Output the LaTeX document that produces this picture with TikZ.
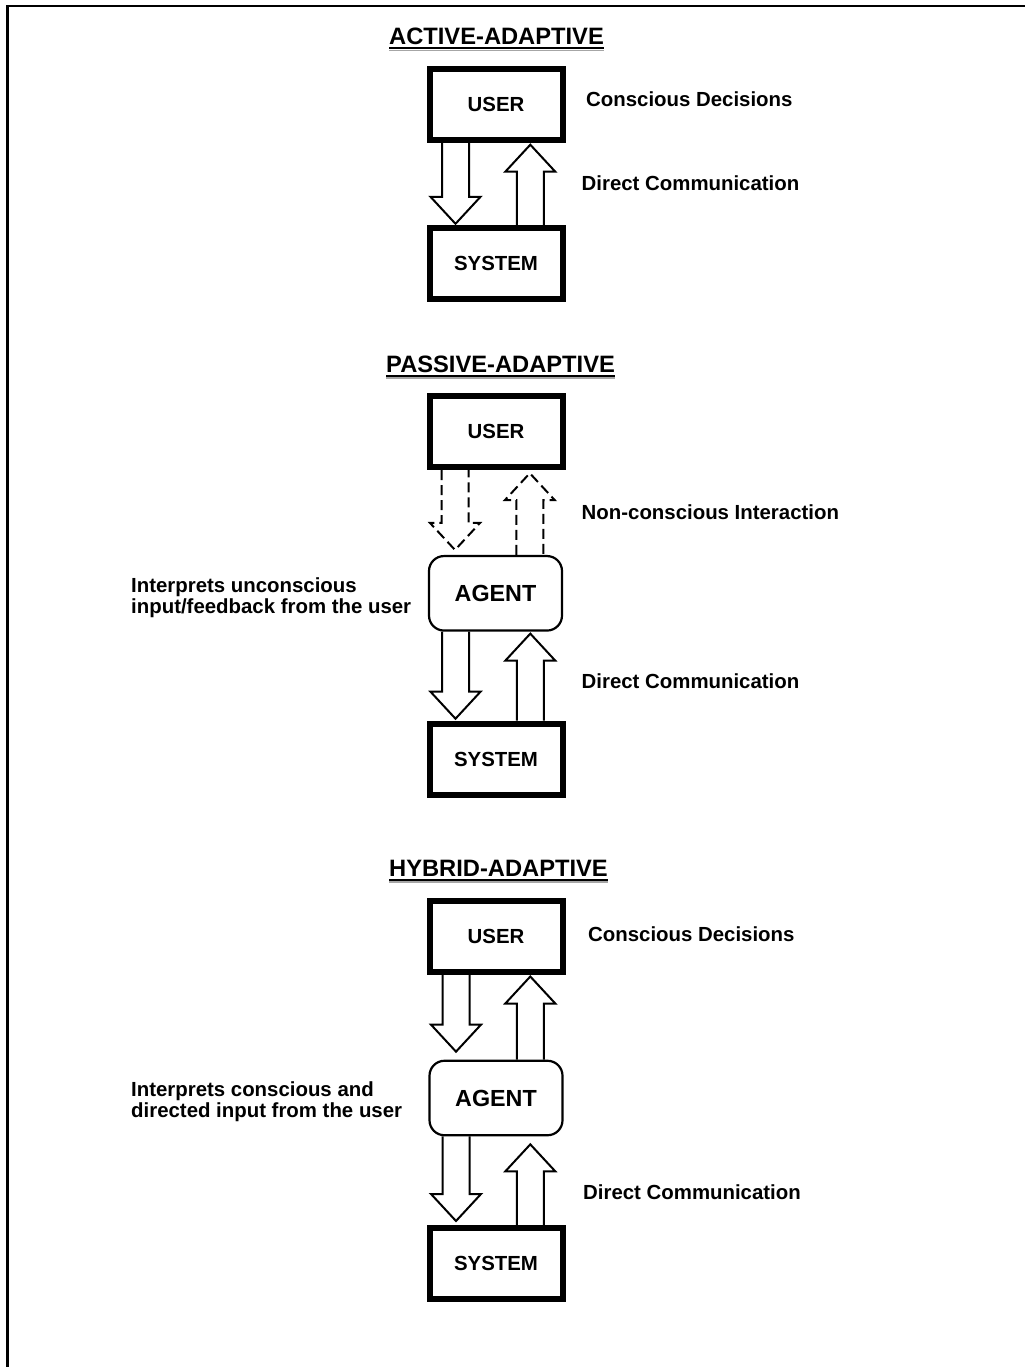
\documentclass[tikz,border=0pt]{standalone}
\usepackage{fontspec}
\setmainfont{Liberation Sans}
\usetikzlibrary{calc}
\newcommand{\dnblock}[5]{%
 \draw[#1] let \p1=(#2.south), \p2=(#3.north) in
  ({\x1+(#4)-13.5pt},{\y1}) -- ({\x1+(#4)-13.5pt},{\y2+27pt+(#5)}) -- ({\x1+(#4)-25pt},{\y2+27pt+(#5)})
  -- ({\x1+(#4)},{\y2+(#5)}) -- ({\x1+(#4)+25pt},{\y2+27pt+(#5)}) -- ({\x1+(#4)+13.5pt},{\y2+27pt+(#5)})
  -- ({\x1+(#4)+13.5pt},{\y1});}
\newcommand{\upblock}[5]{%
 \draw[#1] let \p1=(#2.north), \p2=(#3.south) in
  ({\x1+(#4)-13.5pt},{\y1}) -- ({\x1+(#4)-13.5pt},{\y2-27pt-(#5)}) -- ({\x1+(#4)-25pt},{\y2-27pt-(#5)})
  -- ({\x1+(#4)},{\y2-(#5)}) -- ({\x1+(#4)+25pt},{\y2-27pt-(#5)}) -- ({\x1+(#4)+13.5pt},{\y2-27pt-(#5)})
  -- ({\x1+(#4)+13.5pt},{\y1});}
\begin{document}
\begin{tikzpicture}[x=1pt,y=-1pt,
 lbl/.style={font=\fontsize{20.4}{21}\selectfont\bfseries, inner sep=0, anchor=base west},
 ttl/.style={font=\fontsize{23.7}{25}\selectfont\bfseries, inner sep=0, anchor=base west},
 thickbox/.style={draw, line width=6pt, minimum width=133pt, minimum height=71pt, inner sep=0, font=\fontsize{20.4}{21}\selectfont\bfseries},
 agentbox/.style={draw, line width=2.2pt, rounded corners=15pt, minimum width=133pt, minimum height=74.5pt, inner sep=0, font=\fontsize{23.3}{25}\selectfont\bfseries},
 blockarr/.style={line width=2pt, line join=miter},
 dashblock/.style={blockarr, dash pattern=on 10pt off 5pt},
 side/.style={font=\fontsize{20.4}{20.5}\selectfont\bfseries, inner sep=0, anchor=west, align=left},
 uline/.style={line width=2pt},
 ushadow/.style={line width=1.5pt, black!35}]
\useasboundingbox (0,0) rectangle (1025,1367);
% frame
\draw[line width=3pt] (7.5,1367) -- (7.5,5.5);
\draw[line width=2pt] (6,6.5) -- (1025,6.5);

% ---------- ACTIVE-ADAPTIVE ----------
\node[ttl] (t1) at (389,45) {ACTIVE-ADAPTIVE};
\draw[ushadow] ([yshift=-5.5pt]t1.base west) -- ([yshift=-5.5pt]t1.base east);
\draw[uline] ([yshift=-3.5pt]t1.base west) -- ([yshift=-3.5pt]t1.base east);
\node[thickbox] (u1) at (496,104.2) {USER};
\node[thickbox] (s1) at (496,263.3) {SYSTEM};
\dnblock{blockarr}{u1}{s1}{-40.5pt}{1pt}
\upblock{blockarr}{s1}{u1}{34.3pt}{2pt}
\node[lbl] (c1) at (586,107) {Conscious Decisions};
\node[lbl] (d1) at (581.5,191) {Direct Communication};

% ---------- PASSIVE-ADAPTIVE ----------
\node[ttl] (t2) at (386,372.5) {PASSIVE-ADAPTIVE};
\draw[ushadow] ([yshift=-5.5pt]t2.base west) -- ([yshift=-5.5pt]t2.base east);
\draw[uline] ([yshift=-3.5pt]t2.base west) -- ([yshift=-3.5pt]t2.base east);
\node[thickbox] (u2) at (496,431.7) {USER};
\node[agentbox] (a2) at (495.5,593.3) {AGENT};
\node[thickbox] (s2) at (496,759.2) {SYSTEM};
\dnblock{dashblock}{u2}{a2}{-41pt}{5pt}
\upblock{dashblock}{a2}{u2}{34.3pt}{3pt}
\dnblock{blockarr}{a2}{s2}{-40pt}{2pt}
\upblock{blockarr}{s2}{a2}{34.3pt}{2pt}
\node[lbl] (n2) at (581.5,519) {Non-conscious Interaction};
\node[lbl] (d2) at (581.5,688.5) {Direct Communication};
\node[side] (i2) at (131,597.5) {Interprets unconscious\\input/feedback from the user};

% ---------- HYBRID-ADAPTIVE ----------
\node[ttl] (t3) at (389,876.5) {HYBRID-ADAPTIVE};
\draw[ushadow] ([yshift=-5.5pt]t3.base west) -- ([yshift=-5.5pt]t3.base east);
\draw[uline] ([yshift=-3.5pt]t3.base west) -- ([yshift=-3.5pt]t3.base east);
\node[thickbox] (u3) at (496,936) {USER};
\node[agentbox] (a3) at (496,1098) {AGENT};
\node[thickbox] (s3) at (496,1263.5) {SYSTEM};
\dnblock{blockarr}{u3}{a3}{-40pt}{8pt}
\upblock{blockarr}{a3}{u3}{34.3pt}{2pt}
\dnblock{blockarr}{a3}{s3}{-40pt}{4pt}
\upblock{blockarr}{s3}{a3}{34.3pt}{8pt}
\node[lbl] (c3) at (588,941.5) {Conscious Decisions};
\node[lbl] (d3) at (583,1199.5) {Direct Communication};
\node[side] (i3) at (131,1101.5) {Interprets conscious and\\directed input from the user};
\end{tikzpicture}
\end{document}
